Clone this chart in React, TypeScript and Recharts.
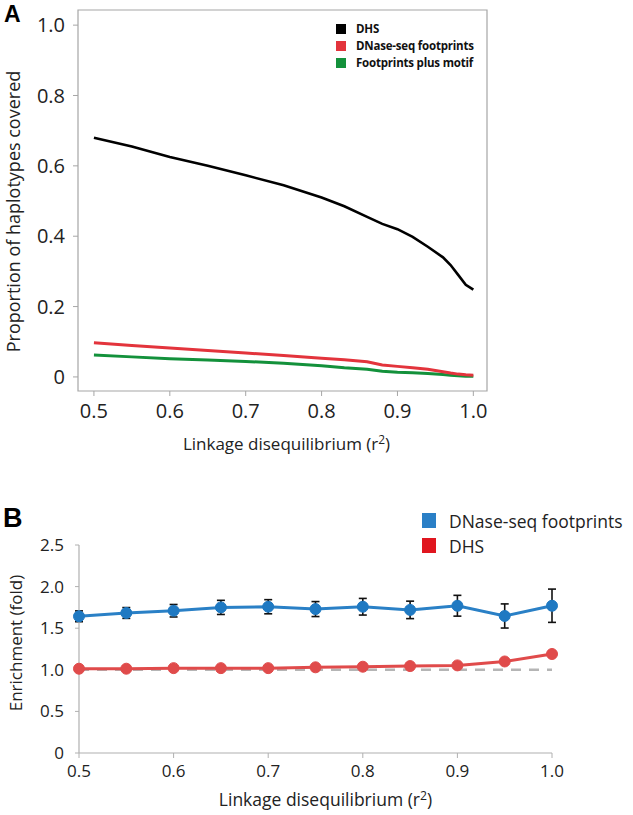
import React from 'react';
import { LineChart, Line, XAxis, YAxis, ReferenceArea, ErrorBar, Label } from 'recharts';

// ---------- Panel A data ----------
const r2Fine = [0.5, 0.55, 0.6, 0.65, 0.7, 0.75, 0.8, 0.83, 0.86, 0.88, 0.9, 0.92, 0.94, 0.96, 0.97, 0.98, 0.99, 1.0];
const dhsCoverage = [0.68, 0.655, 0.625, 0.6, 0.573, 0.545, 0.51, 0.485, 0.455, 0.435, 0.42, 0.398, 0.37, 0.34, 0.318, 0.29, 0.262, 0.248];
const footprintCoverage = [0.097, 0.089, 0.082, 0.075, 0.068, 0.061, 0.053, 0.049, 0.043, 0.034, 0.03, 0.026, 0.022, 0.015, 0.011, 0.008, 0.006, 0.005];
const motifCoverage = [0.062, 0.057, 0.052, 0.048, 0.044, 0.039, 0.032, 0.026, 0.022, 0.016, 0.013, 0.012, 0.01, 0.007, 0.005, 0.003, 0.002, 0.002];
const topXTicks = [0.5, 0.6, 0.7, 0.8, 0.9, 1.0];
const topYTicks = [0, 0.2, 0.4, 0.6, 0.8, 1.0];
const topXDomain = [0.479, 1.018];
const topYDomain = [-0.04, 1.043];
const topLegend = [
  { label: 'DHS', color: '#000000' },
  { label: 'DNase-seq footprints', color: '#e3343c' },
  { label: 'Footprints plus motif', color: '#13913b' },
];

// ---------- Panel B data ----------
const r2Steps = [0.5, 0.55, 0.6, 0.65, 0.7, 0.75, 0.8, 0.85, 0.9, 0.95, 1.0];
const footprintEnrichment = [1.643, 1.683, 1.71, 1.75, 1.758, 1.73, 1.758, 1.72, 1.77, 1.647, 1.77];
const footprintError = [0.065, 0.065, 0.075, 0.085, 0.085, 0.09, 0.1, 0.105, 0.125, 0.145, 0.2];
const dhsEnrichment = [1.013, 1.013, 1.02, 1.02, 1.02, 1.03, 1.037, 1.045, 1.053, 1.1, 1.19];
const baselineEnrichment = 1.0;
const bottomXTicks = [0.5, 0.6, 0.7, 0.8, 0.9, 1.0];
const bottomYTicks = [0, 0.5, 1.0, 1.5, 2.0, 2.5];
const bottomLegend = [
  { label: 'DNase-seq footprints', color: '#2a7fc6' },
  { label: 'DHS', color: '#e0161f' },
];

const topData = r2Fine.map((x, i) => ({
  x,
  dhs: dhsCoverage[i],
  fp: footprintCoverage[i],
  motif: motifCoverage[i],
}));

const bottomData = r2Steps.map((x, i) => ({
  x,
  fp: footprintEnrichment[i],
  err: footprintError[i],
  dhs: dhsEnrichment[i],
  base: baselineEnrichment,
}));

const FONT = '"Open Sans", "DejaVu Sans", sans-serif';
const fmt1 = (v: number) => (v === 0 ? '0' : v.toFixed(1));

const XTitle = (props: any) => {
  const vb = props.viewBox;
  const { dyOffset, dxOffset, size } = props;
  return (
    <text
      x={vb.x + vb.width / 2 + dxOffset}
      y={vb.y + dyOffset}
      textAnchor="middle"
      fontFamily={FONT}
      fontSize={size}
      fill="#222"
    >
      Linkage disequilibrium (r
      <tspan dy={-6} fontSize={size * 0.7}>2</tspan>
      <tspan dy={6}>)</tspan>
    </text>
  );
};

const YTitle = (props: any) => {
  const vb = props.viewBox;
  const { cx, text, size, dyOffset } = props;
  const cy = vb.y + vb.height / 2 + dyOffset;
  return (
    <text
      x={cx}
      y={cy}
      transform={`rotate(-90, ${cx}, ${cy})`}
      textAnchor="middle"
      dominantBaseline="central"
      fontFamily={FONT}
      fontSize={size}
      fill="#222"
    >
      {text}
    </text>
  );
};

export default function App() {
  return (
    <div style={{ position: 'absolute', left: 0, top: 0, width: 633, height: 815, background: '#fff' }}>
      <div style={{ position: 'absolute', left: 4, top: 1, fontFamily: 'Liberation Sans, Arial, sans-serif', fontWeight: 700, fontSize: 23 }}>A</div>
      <div style={{ position: 'absolute', left: 3, top: 503, fontFamily: 'Liberation Sans, Arial, sans-serif', fontWeight: 700, fontSize: 27 }}>B</div>

      <div style={{ position: 'absolute', left: 0, top: 0 }}>
        <LineChart width={633} height={460} data={topData} margin={{ top: 10, right: 146, bottom: 0, left: 0 }}>
          <XAxis
            dataKey="x"
            type="number"
            domain={topXDomain}
            allowDataOverflow
            ticks={topXTicks}
            tickFormatter={fmt1}
            axisLine={false}
            tickLine={{ stroke: '#a6a6a6' }}
            tickSize={5}
            tickMargin={8}
            height={69}
            tick={{ fontFamily: FONT, fontSize: 20, fill: '#222' }}
          >
            <Label content={<XTitle dyOffset={59} dxOffset={4} size={17} />} />
          </XAxis>
          <YAxis
            type="number"
            domain={topYDomain}
            allowDataOverflow
            ticks={topYTicks}
            tickFormatter={fmt1}
            axisLine={false}
            tickLine={{ stroke: '#a6a6a6' }}
            tickSize={5}
            tickMargin={8}
            width={78}
            tick={{ fontFamily: FONT, fontSize: 20, fill: '#222' }}
          >
            <Label content={<YTitle cx={13} text="Proportion of haplotypes covered" size={18} dyOffset={11} />} />
          </YAxis>
          <ReferenceArea
            x1={topXDomain[0]}
            x2={topXDomain[1]}
            y1={topYDomain[0]}
            y2={topYDomain[1]}
            fill="none"
            stroke="#a6a6a6"
            strokeWidth={1.2}
            ifOverflow="visible"
          />
          <Line dataKey="motif" stroke="#13913b" strokeWidth={3} dot={false} isAnimationActive={false} />
          <Line dataKey="fp" stroke="#e3343c" strokeWidth={3} dot={false} isAnimationActive={false} />
          <Line dataKey="dhs" stroke="#000" strokeWidth={2.6} dot={false} isAnimationActive={false} />
        </LineChart>
      </div>

      <div style={{ position: 'absolute', left: 336, top: 20, display: 'flex', flexDirection: 'column' }}>
        {topLegend.map((it) => (
          <div key={it.label} style={{ display: 'flex', alignItems: 'center', height: 17 }}>
            <span style={{ width: 10, height: 10, background: it.color, marginRight: 10, display: 'inline-block' }} />
            <span style={{ fontFamily: FONT, fontWeight: 700, fontSize: 11.5, color: '#111', letterSpacing: -0.2 }}>
              {it.label}
            </span>
          </div>
        ))}
      </div>

      <div style={{ position: 'absolute', left: 0, top: 480 }}>
        <LineChart width={633} height={335} data={bottomData} margin={{ top: 65, right: 81, bottom: 0, left: 0 }}>
          <XAxis
            dataKey="x"
            type="number"
            domain={[0.5, 1.0]}
            ticks={bottomXTicks}
            tickFormatter={fmt1}
            axisLine={{ stroke: '#b0b0b0', strokeWidth: 1.2 }}
            tickLine={{ stroke: '#b0b0b0' }}
            tickSize={5}
            tickMargin={7}
            height={62}
            tick={{ fontFamily: FONT, fontSize: 17, fill: '#222' }}
          >
            <Label content={<XTitle dyOffset={53} dxOffset={10} size={17.5} />} />
          </XAxis>
          <YAxis
            type="number"
            domain={[0, 2.5]}
            ticks={bottomYTicks}
            tickFormatter={fmt1}
            axisLine={{ stroke: '#b0b0b0', strokeWidth: 1.2 }}
            tickLine={{ stroke: '#b0b0b0' }}
            tickSize={4}
            tickMargin={11}
            width={79}
            tick={{ fontFamily: FONT, fontSize: 17, fill: '#222' }}
          >
            <Label content={<YTitle cx={15} text="Enrichment (fold)" size={17} dyOffset={-6} />} />
          </YAxis>
          <Line dataKey="base" stroke="#b5b5b5" strokeWidth={2.5} strokeDasharray="10 8" dot={false} legendType="none" isAnimationActive={false} />
          <Line
            dataKey="dhs"
            stroke="#e04b4b"
            strokeWidth={3}
            dot={{ r: 5.5, fill: '#e04b4b', stroke: '#e04b4b', strokeWidth: 1 }}
            isAnimationActive={false}
          />
          <Line
            dataKey="fp"
            stroke="#2a80c6"
            strokeWidth={3}
            dot={{ r: 5.5, fill: '#1f79c2', stroke: '#1f79c2', strokeWidth: 1 }}
            isAnimationActive={false}
          >
            <ErrorBar dataKey="err" width={4} stroke="#111" strokeWidth={1.6} direction="y" />
          </Line>
        </LineChart>
      </div>

      <div style={{ position: 'absolute', left: 422, top: 508, display: 'flex', flexDirection: 'column' }}>
        {bottomLegend.map((it) => (
          <div key={it.label} style={{ display: 'flex', alignItems: 'center', height: 25 }}>
            <span style={{ width: 14, height: 15, background: it.color, marginRight: 13, display: 'inline-block' }} />
            <span style={{ fontFamily: FONT, fontSize: 17.5, color: '#222' }}>{it.label}</span>
          </div>
        ))}
      </div>
    </div>
  );
}
